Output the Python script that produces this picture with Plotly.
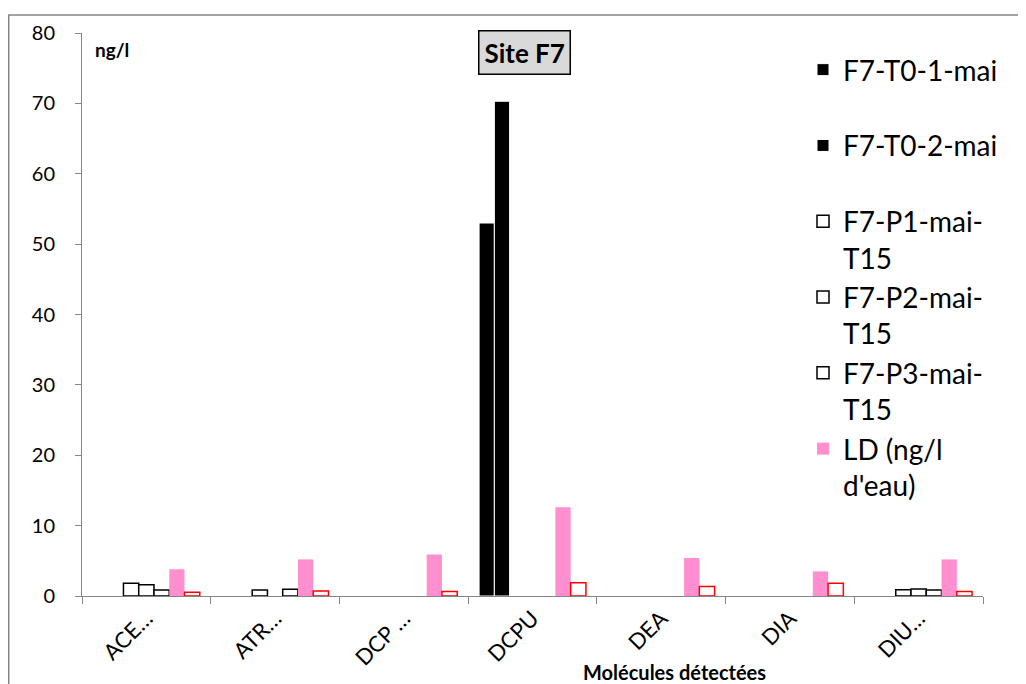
import plotly.graph_objects as go

categories = ["ACE…", "ATR…", "DCP …", "DCPU", "DEA", "DIA", "DIU…"]
t0_1 = [None, None, None, 53.0, None, None, None]
t0_2 = [None, None, None, 70.3, None, None, None]
p1 = [1.8, 0.85, None, None, None, None, 0.9]
p2 = [1.6, None, None, None, None, None, 1.0]
p3 = [0.85, 0.95, None, None, None, None, 0.85]
ld = [3.8, 5.2, 5.9, 12.6, 5.4, 3.5, 5.2]
lq = [0.55, 0.7, 0.65, 1.9, 1.35, 1.8, 0.65]

names = ["F7-T0-1-mai<br> ", "F7-T0-2-mai<br> ", "F7-P1-mai-<br>T15",
         "F7-P2-mai-<br>T15", "F7-P3-mai-<br>T15", "LD (ng/l<br>d'eau)", "LQ"]

FONT = "Lato"
GRAY = "#868686"

# page has an 8px body margin, so the figure is 8px smaller than the window
W, H = 1018, 676
L, R, T, B = 74, 43, 22, 88
pw = W - L - R
ph = H - T - B

fig = go.Figure()
series = [
    (t0_1, "black", "white", 1, True),
    (t0_2, "black", "white", 1, True),
    (p1, "white", "black", 1.5, True),
    (p2, "white", "black", 1.5, True),
    (p3, "white", "black", 1.5, True),
    (ld, "#ff8fcf", "#ff8fcf", 0, True),
    (lq, "white", "#ff0000", 1.5, False),
]
for i, (vals, fill, line, lw, show) in enumerate(series):
    fig.add_trace(go.Bar(
        x=categories, y=vals, name=names[i], showlegend=show,
        legendgroup="g%d" % i,
        marker=dict(color=fill, line=dict(color=line, width=lw)),
    ))

def px(x):
    return (x - L) / pw

def py(y):
    return (H - B - y) / ph

fig.update_layout(
    width=W, height=H,
    margin=dict(l=L, r=R, t=T, b=B),
    paper_bgcolor="white", plot_bgcolor="white",
    barmode="group", bargap=0.17, bargroupgap=0,
    font=dict(family=FONT, color="black"),
    legend=dict(x=px(795), y=py(34), xanchor="left", yanchor="top",
                font=dict(size=28, family=FONT), bgcolor="rgba(0,0,0,0)",
                tracegroupgap=0, itemwidth=30, valign="top"),
    xaxis=dict(showline=True, linecolor=GRAY, linewidth=1, ticks="outside",
               tickson="boundaries", ticklen=7, tickcolor=GRAY, tickangle=-45,
               tickfont=dict(size=22, family=FONT), showgrid=False,
               range=[-0.5, 6.5]),
    yaxis=dict(range=[0, 80], dtick=10, showline=True, linecolor=GRAY,
               linewidth=1, ticks="outside", ticklen=6, tickcolor=GRAY,
               tickfont=dict(size=20, family=FONT), showgrid=False,
               zeroline=False, ticklabelstandoff=16),
    shapes=[dict(type="rect", xref="paper", yref="paper",
                 x0=px(0.75), x1=px(W + 20), y0=py(H + 20), y1=py(4),
                 line=dict(color=GRAY, width=1.5), fillcolor="rgba(0,0,0,0)")],
    annotations=[
        dict(text="<b>ng/l</b>", xref="paper", yref="paper", x=px(85), y=py(39),
             xanchor="left", yanchor="middle", showarrow=False,
             font=dict(size=19, family=FONT)),
        dict(text="<b>Site F7</b>", xref="paper", yref="paper", x=px(516), y=py(42),
             xanchor="center", yanchor="middle", showarrow=False,
             font=dict(size=26, family=FONT), bgcolor="#d9d9d9",
             bordercolor="black", borderwidth=1.5, borderpad=5),
        dict(text="<b>Molécules détectées</b>", xref="paper", yref="paper",
             x=px(666), y=py(664), xanchor="center", yanchor="middle",
             showarrow=False, font=dict(size=20, family=FONT)),
    ],
)

fig.write_html("out.html")
